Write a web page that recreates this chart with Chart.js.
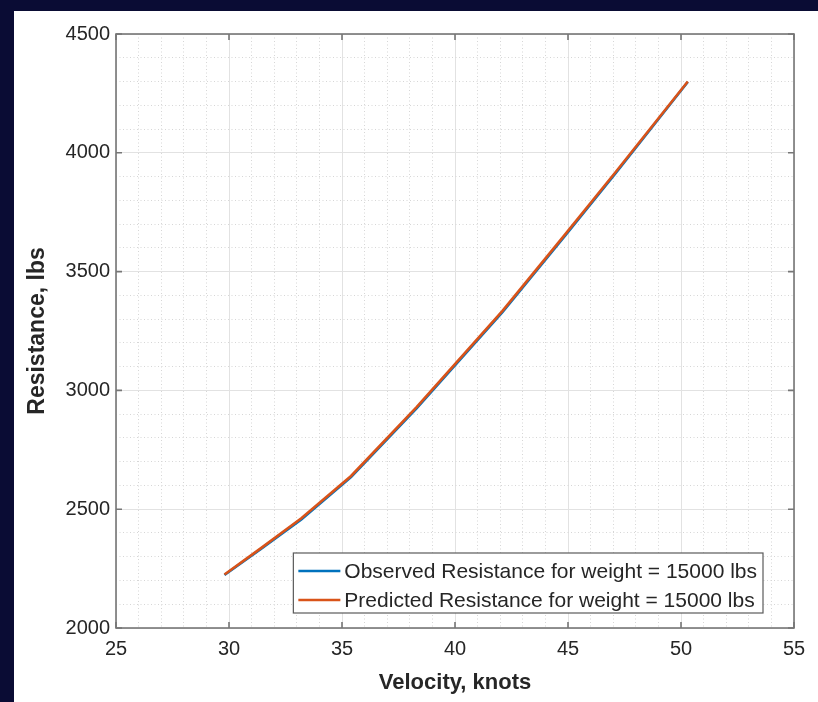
<!DOCTYPE html>
<html><head><meta charset="utf-8">
<script src="https://cdn.jsdelivr.net/npm/chart.js@4.4.1/dist/chart.umd.min.js"></script>
<style>
html,body{margin:0;padding:0;background:#0a0c34;overflow:hidden}
#wrap{position:absolute;left:0;top:0;width:818px;height:702px}
</style>
</head><body>
<div id="wrap"><canvas id="c"></canvas></div>
<script>
// ---- data ----
const velocity = [29.8, 31.4, 33.2, 35.4, 38.3, 42.1, 44.9, 47.1, 50.3];
const observedResistance = [2223, 2332, 2457, 2635, 2924, 3329, 3654, 3913, 4298];
const predictedResistance = [2225, 2335, 2462, 2640, 2930, 3335, 3660, 3918, 4300];
const xTicks = [25, 30, 35, 40, 45, 50, 55];
const yTicks = [2000, 2500, 3000, 3500, 4000, 4500];
const seriesLabels = ['Observed Resistance for weight = 15000 lbs', 'Predicted Resistance for weight = 15000 lbs'];
const seriesColors = ['#0072BD', '#D95319'];
const xTitle = 'Velocity, knots';
const yTitle = 'Resistance, lbs';

const FONT = '"Liberation Sans", Arial, Helvetica, sans-serif';
const TEXT = '#262626';
Chart.defaults.font.family = FONT;

function pts(xs, ys) { return xs.map((x, i) => ({x: x, y: ys[i]})); }

const bgPlugin = {
  id: 'bg',
  beforeDraw(chart) {
    const c = chart.ctx;
    c.save();
    c.fillStyle = '#0a0c34';
    c.fillRect(0, 0, chart.width, chart.height);
    c.fillStyle = '#ffffff';
    c.fillRect(14, 11, chart.width - 14, chart.height - 11);
    c.restore();
  }
};

const boxPlugin = {
  id: 'box',
  afterDatasetsDraw(chart) {
    const c = chart.ctx, a = chart.chartArea;
    const xs = chart.scales.x, ys = chart.scales.y;
    c.save();
    c.strokeStyle = '#767676';
    c.lineWidth = 1.6;
    c.strokeRect(a.left, a.top, a.right - a.left, a.bottom - a.top);
    c.beginPath();
    xTicks.forEach(v => {
      const p = xs.getPixelForValue(v);
      c.moveTo(p, a.bottom); c.lineTo(p, a.bottom - 6);
      c.moveTo(p, a.top); c.lineTo(p, a.top + 6);
    });
    yTicks.forEach(v => {
      const p = ys.getPixelForValue(v);
      c.moveTo(a.left, p); c.lineTo(a.left + 6, p);
      c.moveTo(a.right, p); c.lineTo(a.right - 6, p);
    });
    c.stroke();

    // legend (southeast, inside axes)
    c.font = '21px ' + FONT;
    const ds = chart.data.datasets;
    let tw = 0;
    ds.forEach(d => { tw = Math.max(tw, c.measureText(d.label).width); });
    const padL = 5, sample = 42, gap = 4, padR = 6;
    const bw = padL + sample + gap + tw + padR;
    const bh = 60;
    const bx = a.right - 31 - bw;
    const by = a.bottom - 15 - bh;
    c.fillStyle = '#ffffff';
    c.fillRect(bx, by, bw, bh);
    c.strokeStyle = '#5a5a5a';
    c.lineWidth = 1.2;
    c.strokeRect(bx, by, bw, bh);
    ds.forEach((d, i) => {
      const cy = by + 18 + i * 29;
      c.strokeStyle = d.borderColor;
      c.lineWidth = 2.5;
      c.beginPath();
      c.moveTo(bx + padL, cy);
      c.lineTo(bx + padL + sample, cy);
      c.stroke();
      c.fillStyle = TEXT;
      c.textBaseline = 'middle';
      c.textAlign = 'left';
      c.fillText(d.label, bx + padL + sample + gap, cy + 1);
    });
    c.restore();
  }
};

const isMajor = (v, step) => Math.abs(v / step - Math.round(v / step)) < 1e-6;

new Chart(document.getElementById('c'), {
  type: 'scatter',
  data: {
    datasets: [
      {label: seriesLabels[0], data: pts(velocity, observedResistance), borderColor: seriesColors[0], backgroundColor: seriesColors[0], showLine: true, pointRadius: 0, borderWidth: 2.6, order: 1},
      {label: seriesLabels[1], data: pts(velocity, predictedResistance), borderColor: seriesColors[1], backgroundColor: seriesColors[1], showLine: true, pointRadius: 0, borderWidth: 2.6, order: 0}
    ]
  },
  options: {
    responsive: true,
    maintainAspectRatio: false,
    animation: false,
    layout: {padding: {left: 0, top: 34, right: 24, bottom: 0}},
    plugins: {legend: {display: false}, tooltip: {enabled: false}},
    scales: {
      x: {
        type: 'linear', min: 25, max: 55,
        afterFit: s => { s.height = 74; },
        ticks: {stepSize: 1, autoSkip: false, maxRotation: 0, padding: 9, color: TEXT,
          font: {size: 20, family: FONT},
          callback: v => isMajor(v, 5) ? String(v) : ''},
        grid: {drawTicks: false, lineWidth: 1,
          color: ctx => (ctx.tick && isMajor(ctx.tick.value, 5)) ? '#e2e2e2' : '#d6d6d6'},
        border: {display: false,
          dash: ctx => (ctx.tick && !isMajor(ctx.tick.value, 5)) ? [1, 2.5] : []},
        title: {display: true, text: xTitle, color: TEXT, font: {size: 22, weight: 'bold', family: FONT}, padding: {top: 0, bottom: 6}}
      },
      y: {
        type: 'linear', min: 2000, max: 4500,
        afterFit: s => { s.width = 116; },
        ticks: {stepSize: 100, autoSkip: false, padding: 6, color: TEXT,
          font: {size: 20, family: FONT},
          callback: v => isMajor(v, 500) ? String(v) : ''},
        grid: {drawTicks: false, lineWidth: 1,
          color: ctx => (ctx.tick && isMajor(ctx.tick.value, 500)) ? '#e2e2e2' : '#d6d6d6'},
        border: {display: false,
          dash: ctx => (ctx.tick && !isMajor(ctx.tick.value, 500)) ? [1, 2.5] : []},
        title: {display: true, text: yTitle, color: TEXT, font: {size: 23, weight: 'bold', family: FONT}, padding: {top: 24, bottom: 0}}
      }
    }
  },
  plugins: [bgPlugin, boxPlugin]
});
</script>
</body></html>
